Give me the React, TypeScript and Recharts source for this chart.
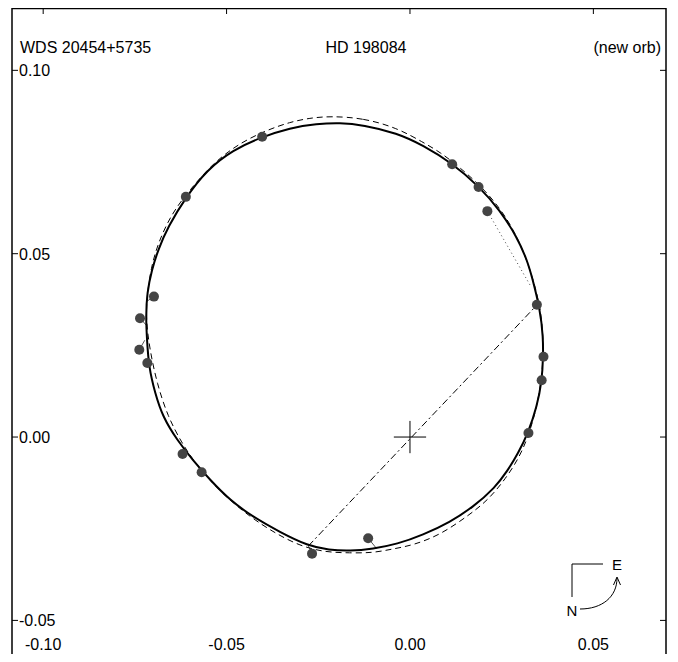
import {
  ReferenceLine,
  Scatter,
  ScatterChart,
  XAxis,
  YAxis,
} from "recharts";

// tick values
const xTicks = [-0.1, -0.05, 0, 0.05];
const yTicks = [-0.05, 0, 0.05, 0.1];
const xDomain = [-0.1085, 0.0698];
const yDomain = [-0.0608, 0.117];

// new orbit (solid), clockwise from the top
const newOrbit: [number, number][] = [
  [-0.0191, 0.0857], [-0.0128, 0.0851], [-0.0035, 0.0829], [0.0035, 0.0796],
  [0.0115, 0.0747], [0.0188, 0.0684], [0.0245, 0.0619], [0.0292, 0.0545],
  [0.0319, 0.0483], [0.0333, 0.0436], [0.0355, 0.0346], [0.0363, 0.0273],
  [0.0363, 0.0218], [0.036, 0.0155], [0.0346, 0.0082], [0.0322, 0.0011],
  [0.0295, -0.0044], [0.0266, -0.0092], [0.0232, -0.0138], [0.0172, -0.0191],
  [0.0109, -0.0232], [0.0035, -0.0267], [-0.0035, -0.0292], [-0.0101, -0.0305],
  [-0.0164, -0.0311], [-0.0221, -0.0308], [-0.0278, -0.0297], [-0.0355, -0.0259],
  [-0.0428, -0.0218], [-0.0491, -0.0172], [-0.0545, -0.0117], [-0.0592, -0.0063],
  [-0.0635, -0.0008], [-0.0674, 0.0055], [-0.0695, 0.012], [-0.0712, 0.0191],
  [-0.0717, 0.0265], [-0.072, 0.0327], [-0.0717, 0.0393], [-0.0704, 0.0455],
  [-0.0687, 0.051], [-0.066, 0.0573], [-0.0611, 0.0654], [-0.0554, 0.0728],
  [-0.0483, 0.0783], [-0.0404, 0.0818], [-0.0327, 0.0843], [-0.0254, 0.0854],
];

// previous orbit (dashed)
const oldOrbit: [number, number][] = [
  [-0.0218, 0.0875], [-0.0128, 0.087], [-0.0035, 0.0843], [0.0035, 0.0804],
  [0.0082, 0.0777], [0.0131, 0.0739], [0.0191, 0.0687], [0.0248, 0.0622],
  [0.0292, 0.0548], [0.0327, 0.0461], [0.0355, 0.036], [0.0363, 0.0278],
  [0.0363, 0.021], [0.0357, 0.0147], [0.0344, 0.0074], [0.0322, 0.0],
  [0.0297, -0.0057], [0.0262, -0.0112], [0.0213, -0.0172], [0.0158, -0.0215],
  [0.0082, -0.0267], [0.0008, -0.0295], [-0.0046, -0.0305], [-0.0101, -0.0316],
  [-0.0164, -0.0316], [-0.0232, -0.0314], [-0.03, -0.0297], [-0.0368, -0.0262],
  [-0.0436, -0.0218], [-0.0518, -0.015], [-0.0586, -0.0071], [-0.0622, -0.0016],
  [-0.066, 0.0055], [-0.069, 0.0147], [-0.0709, 0.0237], [-0.072, 0.0319],
  [-0.0717, 0.0387], [-0.0706, 0.0461], [-0.0687, 0.0529], [-0.0649, 0.0611],
  [-0.06, 0.0674], [-0.0537, 0.0747], [-0.0464, 0.0802], [-0.039, 0.0837],
  [-0.0327, 0.0859], [-0.0273, 0.087],
];

// measured positions
const observations: [number, number][] = [
  [-0.0403, 0.0819], [-0.0611, 0.0655], [0.0115, 0.0744], [0.0187, 0.0682],
  [0.0211, 0.0616], [-0.0698, 0.0383], [-0.0736, 0.0324], [-0.0738, 0.0238],
  [-0.0716, 0.0202], [0.0346, 0.0361], [0.0364, 0.0219], [0.0359, 0.0155],
  [0.0323, 0.0011], [-0.062, -0.0046], [-0.0568, -0.0096], [-0.0267, -0.0318],
  [-0.0114, -0.0276],
];

// O-C segments: observation -> predicted position
const residualFrom: [number, number][] = [
  [-0.0698, 0.0383], [-0.0736, 0.0324], [-0.0738, 0.0238], [-0.0267, -0.0318],
  [-0.0114, -0.0276],
];
const residualTo: [number, number][] = [
  [-0.0716, 0.0371], [-0.0717, 0.0303], [-0.0723, 0.0264], [-0.0277, -0.0297],
  [-0.0091, -0.0304],
];
const dottedFrom: [number, number] = [0.0211, 0.0616];
const dottedTo: [number, number] = [0.0327, 0.0415];

// line of nodes
const nodeLine: [number, number][] = [[-0.0277, -0.0297], [0.0346, 0.036]];
const crossHalf = 0.0044;

const toPts = (arr: [number, number][]) => arr.map(([x, y]) => ({ x, y }));

const FONT = "'Liberation Sans', Arial, Helvetica, sans-serif";
const fmt = (v: number) => v.toFixed(2);

const NoDot = () => <g />;
const ObsDot = (props: any) => (
  <circle cx={props.cx} cy={props.cy} r={5} fill="#444" />
);

const BottomTick = (props: any) => {
  const { x, y, payload } = props;
  return (
    <g>
      <line x1={x} y1={y} x2={x} y2={y - 6} stroke="#000" />
      <text x={x} y={y - 10} textAnchor="middle" fontSize={16} fontFamily={FONT} fill="#000">
        {fmt(payload.value)}
      </text>
    </g>
  );
};

const TopTick = (props: any) => {
  const { x, y } = props;
  return <line x1={x} y1={y} x2={x} y2={y + 6} stroke="#000" />;
};

const LeftTick = (props: any) => {
  const { x, y, payload } = props;
  return (
    <g>
      <line x1={x} y1={y} x2={x + 6} y2={y} stroke="#000" />
      <text x={x + 7} y={y + 6} textAnchor="start" fontSize={16} fontFamily={FONT} fill="#000">
        {fmt(payload.value)}
      </text>
    </g>
  );
};

const RightTick = (props: any) => {
  const { x, y } = props;
  return <line x1={x} y1={y} x2={x - 6} y2={y} stroke="#000" />;
};

const axisCommon = {
  type: "number" as const,
  allowDataOverflow: true,
  interval: 0 as const,
  tickSize: 0,
  tickMargin: 0,
  axisLine: false,
  tickLine: false,
};

export default function App() {
  return (
    <div style={{ position: "relative", width: 678, height: 662, margin: -8 }}>
      <div style={{ position: "absolute", left: 0, top: 0 }}>
        <ScatterChart
          width={678}
          height={662}
          margin={{ top: 7, left: 11, right: 11, bottom: 1 }}
        >
          <XAxis
            {...axisCommon}
            xAxisId="x"
            dataKey="x"
            domain={xDomain}
            ticks={xTicks}
            height={1}
            tick={BottomTick}
          />
          <XAxis
            {...axisCommon}
            xAxisId="xt"
            orientation="top"
            dataKey="x"
            domain={xDomain}
            ticks={xTicks}
            height={1}
            tick={TopTick}
          />
          <YAxis
            {...axisCommon}
            yAxisId="y"
            dataKey="y"
            domain={yDomain}
            ticks={yTicks}
            width={1}
            tick={LeftTick}
          />
          <YAxis
            {...axisCommon}
            yAxisId="yr"
            orientation="right"
            dataKey="y"
            domain={yDomain}
            ticks={yTicks}
            width={1}
            tick={RightTick}
          />
          <Scatter
            xAxisId="x"
            yAxisId="y"
            data={toPts(oldOrbit)}
            line={{ stroke: "#000", strokeWidth: 1, strokeDasharray: "6 4" }}
            lineType="joint"
            lineJointType="basisClosed"
            shape={NoDot}
            isAnimationActive={false}
          />
          <Scatter
            xAxisId="x"
            yAxisId="y"
            data={toPts(newOrbit)}
            line={{ stroke: "#000", strokeWidth: 2 }}
            lineType="joint"
            lineJointType="basisClosed"
            shape={NoDot}
            isAnimationActive={false}
          />
          <ReferenceLine
            xAxisId="x"
            yAxisId="y"
            segment={toPts(nodeLine)}
            stroke="#000"
            strokeWidth={1}
            strokeDasharray="7 3 2 3"
          />
          <ReferenceLine
            xAxisId="x"
            yAxisId="y"
            segment={[{ x: -crossHalf, y: 0 }, { x: crossHalf, y: 0 }]}
            stroke="#000"
            strokeWidth={1}
          />
          <ReferenceLine
            xAxisId="x"
            yAxisId="y"
            segment={[{ x: 0, y: -crossHalf }, { x: 0, y: crossHalf }]}
            stroke="#000"
            strokeWidth={1}
          />
          <ReferenceLine
            xAxisId="x"
            yAxisId="y"
            segment={toPts([dottedFrom, dottedTo])}
            stroke="#444"
            strokeWidth={1}
            strokeDasharray="1 3"
          />
          {residualFrom.map((p, i) => (
            <ReferenceLine
              key={i}
              xAxisId="x"
              yAxisId="y"
              segment={toPts([p, residualTo[i]])}
              stroke="#555"
              strokeWidth={1}
            />
          ))}
          <Scatter
            xAxisId="x"
            yAxisId="y"
            data={toPts(observations)}
            shape={ObsDot}
            isAnimationActive={false}
          />
        </ScatterChart>
      </div>
      <svg
        width={678}
        height={662}
        style={{ position: "absolute", left: 0, top: 0, pointerEvents: "none" }}
        fontFamily={FONT}
        fontSize={16}
      >
        <rect x={12} y={8.5} width={654} height={651.5} fill="none" stroke="#000" strokeWidth={1.5} />
        <text x={20} y={53}>WDS 20454+5735</text>
        <text x={366} y={53} textAnchor="middle">HD 198084</text>
        <text x={661} y={53} textAnchor="end">(new orb)</text>
        <line x1={572} y1={564} x2={603} y2={564} stroke="#000" />
        <line x1={572} y1={564} x2={572} y2={597} stroke="#000" />
        <text x={617} y={570} textAnchor="middle" fontSize={15}>E</text>
        <text x={572} y={616} textAnchor="middle" fontSize={15}>N</text>
        <path d="M580,609 C602,609 617,597 617,578" fill="none" stroke="#000" />
        <path d="M613.5,585 L617,577 L620.5,585" fill="none" stroke="#000" />
      </svg>
    </div>
  );
}
